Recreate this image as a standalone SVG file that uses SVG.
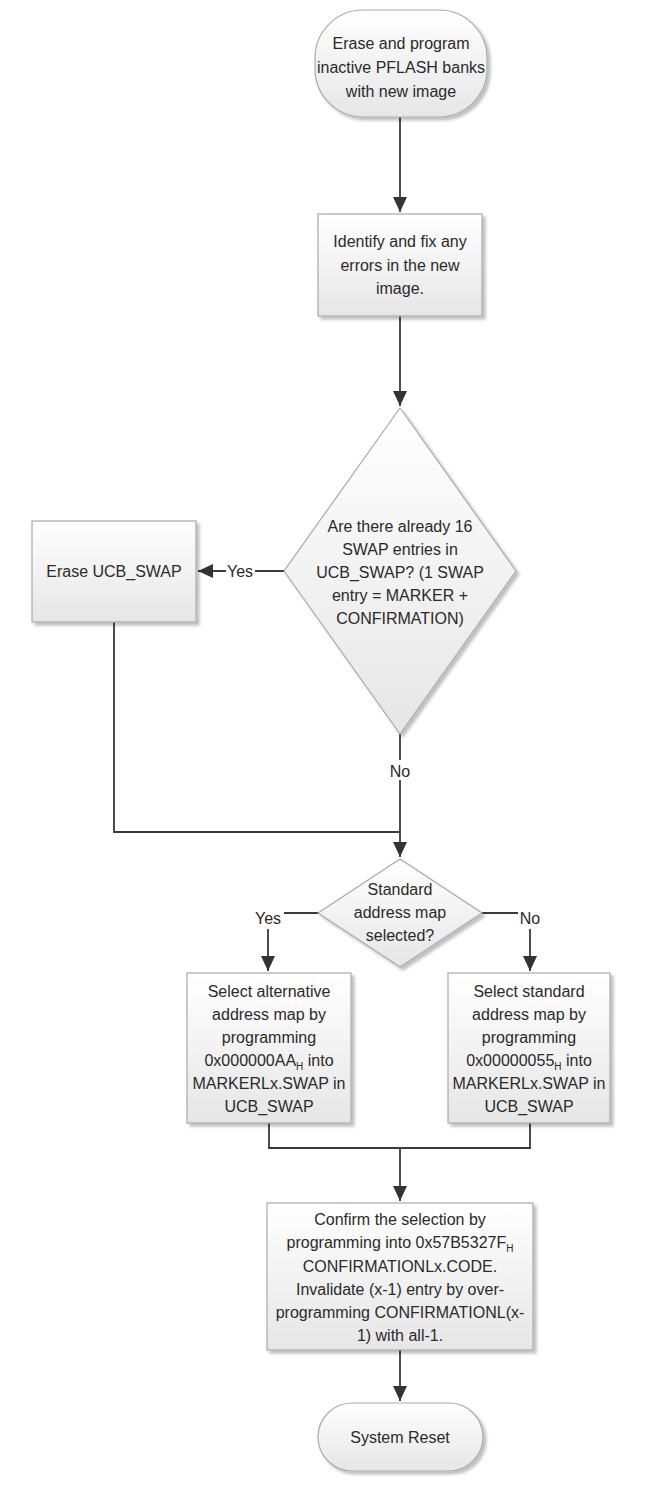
<svg xmlns="http://www.w3.org/2000/svg" width="662" height="1488" viewBox="0 0 662 1488">
<defs>
<linearGradient id="g" x1="0" y1="0" x2="0" y2="1">
<stop offset="0" stop-color="#ffffff"/>
<stop offset="1" stop-color="#e6e6e6"/>
</linearGradient>
<filter id="sh" x="-10%" y="-10%" width="130%" height="130%">
<feDropShadow dx="3" dy="3" stdDeviation="1.5" flood-color="#000" flood-opacity="0.25"/>
</filter>
<marker id="arr" markerUnits="userSpaceOnUse" markerWidth="16" markerHeight="14" refX="15" refY="7" orient="auto">
<path d="M0,0 L15,7 L0,14 z" fill="#333"/>
</marker>
<style>
.shape{fill:url(#g);stroke:#a9a9a9;stroke-width:1.2;filter:url(#sh)}
.t{font-family:"Liberation Sans",Arial,sans-serif;font-size:16px;fill:#2a2a2a;text-anchor:middle}
.sub{font-size:10px}
.c{fill:none;stroke:#3a3a3a;stroke-width:1.8}
.lbl{fill:#fff}
</style>
</defs>
<g id="connectors">
<path class="c" d="M400,117 V212" marker-end="url(#arr)"/>
<path class="c" d="M400,316 V406" marker-end="url(#arr)"/>
<path class="c" d="M285,571 H198" marker-end="url(#arr)"/>
<path class="c" d="M400,734 V857" marker-end="url(#arr)"/>
<path class="c" d="M114,622 V832 H400"/>
<path class="c" d="M319,913 H268 V971" marker-end="url(#arr)"/>
<path class="c" d="M482,913 H530 V971" marker-end="url(#arr)"/>
<path class="c" d="M269,1123 V1148 H530 V1123"/>
<path class="c" d="M400,1148 V1201" marker-end="url(#arr)"/>
<path class="c" d="M400,1350 V1401" marker-end="url(#arr)"/>
<rect class="lbl" x="226" y="561" width="29" height="20"/>
<text class="t" x="240" y="577">Yes</text>
<rect class="lbl" x="388" y="760" width="24" height="20"/>
<text class="t" x="400" y="777">No</text>
<rect class="lbl" x="253" y="905" width="31" height="24"/>
<text class="t" x="268" y="924">Yes</text>
<rect class="lbl" x="518" y="905" width="25" height="24"/>
<text class="t" x="530" y="924">No</text>
</g>
<g id="start">
<rect class="shape" x="315" y="10" width="172" height="107" rx="48" ry="48"/>
<text class="t" x="401" y="49">Erase and program</text>
<text class="t" x="401" y="73">inactive PFLASH banks</text>
<text class="t" x="401" y="97">with new image</text>
</g>
<g id="identify">
<rect class="shape" x="318" y="214" width="164" height="102"/>
<text class="t" x="400" y="247">Identify and fix any</text>
<text class="t" x="400" y="271">errors in the new</text>
<text class="t" x="400" y="294">image.</text>
</g>
<g id="decision1">
<polygon class="shape" points="400,408 516,571 400,734 284,571"/>
<text class="t" x="400" y="532">Are there already 16</text>
<text class="t" x="400" y="555">SWAP entries in</text>
<text class="t" x="400" y="578">UCB_SWAP? (1 SWAP</text>
<text class="t" x="400" y="601">entry = MARKER +</text>
<text class="t" x="400" y="624">CONFIRMATION)</text>
</g>
<g id="erase">
<rect class="shape" x="32" y="521" width="164" height="101"/>
<text class="t" x="114" y="577">Erase UCB_SWAP</text>
</g>
<g id="decision2">
<polygon class="shape" points="400,859 482,913 400,967 318,913"/>
<text class="t" x="400" y="895">Standard</text>
<text class="t" x="400" y="918">address map</text>
<text class="t" x="400" y="941">selected?</text>
</g>
<g id="alt">
<rect class="shape" x="187" y="973" width="164" height="150"/>
<text class="t" x="269" y="997">Select alternative</text>
<text class="t" x="269" y="1020">address map by</text>
<text class="t" x="269" y="1043">programming</text>
<text class="t" x="269" y="1066">0x000000AA<tspan class="sub" dy="4">H</tspan><tspan dy="-4"> into</tspan></text>
<text class="t" x="269" y="1089">MARKERLx.SWAP in</text>
<text class="t" x="269" y="1112">UCB_SWAP</text>
</g>
<g id="std">
<rect class="shape" x="448" y="973" width="162" height="150"/>
<text class="t" x="529" y="997">Select standard</text>
<text class="t" x="529" y="1020">address map by</text>
<text class="t" x="529" y="1043">programming</text>
<text class="t" x="529" y="1066">0x00000055<tspan class="sub" dy="4">H</tspan><tspan dy="-4"> into</tspan></text>
<text class="t" x="529" y="1089">MARKERLx.SWAP in</text>
<text class="t" x="529" y="1112">UCB_SWAP</text>
</g>
<g id="confirm">
<rect class="shape" x="267" y="1203" width="266" height="147"/>
<text class="t" x="400" y="1225">Confirm the selection by</text>
<text class="t" x="400" y="1248">programming into 0x57B5327F<tspan class="sub" dy="4">H</tspan></text>
<text class="t" x="400" y="1272">CONFIRMATIONLx.CODE.</text>
<text class="t" x="400" y="1295">Invalidate (x-1) entry by over-</text>
<text class="t" x="400" y="1318">programming CONFIRMATIONL(x-</text>
<text class="t" x="400" y="1341">1) with all-1.</text>
</g>
<g id="reset">
<rect class="shape" x="318" y="1403" width="165" height="68" rx="34" ry="34"/>
<text class="t" x="400" y="1443">System Reset</text>
</g>
</svg>
